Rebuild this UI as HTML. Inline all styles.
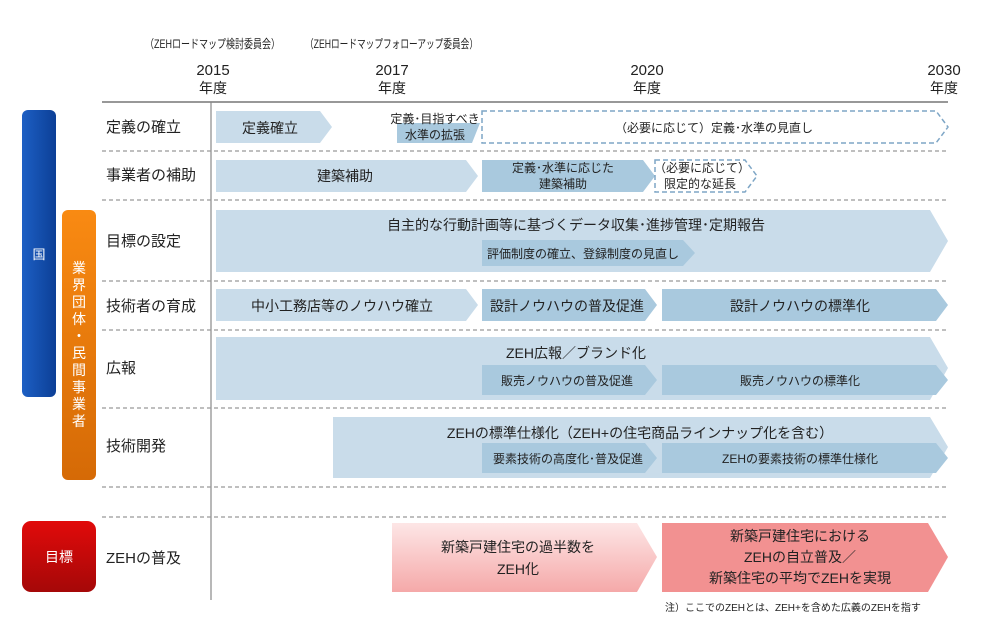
<!DOCTYPE html>
<html><head><meta charset="utf-8"><style>
html,body{margin:0;padding:0;background:#fff}
svg{display:block}
text{font-family:"Liberation Sans","Noto Sans CJK JP",sans-serif;fill:#222}
</style></head><body>
<svg width="1000" height="642" viewBox="0 0 1000 642" xmlns="http://www.w3.org/2000/svg">
<defs>
<linearGradient id="pk" x1="0" y1="0" x2="0" y2="1"><stop offset="0" stop-color="#fde6e6"/><stop offset="1" stop-color="#f5a9a9"/></linearGradient>
<linearGradient id="bl" x1="0" y1="0" x2="1" y2="0"><stop offset="0" stop-color="#1d5fc4"/><stop offset="1" stop-color="#0c3f96"/></linearGradient>
<linearGradient id="or" x1="0" y1="0" x2="0" y2="1"><stop offset="0" stop-color="#f98a12"/><stop offset="1" stop-color="#d56a06"/></linearGradient>
<linearGradient id="rd" x1="0" y1="0" x2="0" y2="1"><stop offset="0" stop-color="#e10a0a"/><stop offset="1" stop-color="#a50808"/></linearGradient>
</defs>

<!-- header -->
<text x="145" y="48" font-size="12" textLength="135" lengthAdjust="spacingAndGlyphs">（ZEHロードマップ検討委員会）</text>
<text x="305" y="48" font-size="12" textLength="173" lengthAdjust="spacingAndGlyphs">（ZEHロードマップフォローアップ委員会）</text>
<g font-size="15" text-anchor="middle">
<text x="213" y="75">2015</text><text x="213" y="93" font-size="14">年度</text>
<text x="392" y="75">2017</text><text x="392" y="93" font-size="14">年度</text>
<text x="647" y="75">2020</text><text x="647" y="93" font-size="14">年度</text>
<text x="944" y="75">2030</text><text x="944" y="93" font-size="14">年度</text>
</g>
<line x1="102" y1="102" x2="948" y2="102" stroke="#777" stroke-width="1.5"/>
<line x1="211" y1="102" x2="211" y2="600" stroke="#888" stroke-width="1.2"/>
<g stroke="#999" stroke-width="1.2" stroke-dasharray="4,3">
<line x1="102" y1="151" x2="948" y2="151"/><line x1="102" y1="200" x2="948" y2="200"/>
<line x1="102" y1="281" x2="948" y2="281"/><line x1="102" y1="330" x2="948" y2="330"/>
<line x1="102" y1="408" x2="948" y2="408"/><line x1="102" y1="487" x2="948" y2="487"/>
<line x1="102" y1="517" x2="948" y2="517"/>
</g>

<!-- side bars -->
<rect x="22" y="110" width="34" height="287" rx="6" fill="url(#bl)"/>
<text x="39" y="259" font-size="13" text-anchor="middle" style="fill:#fff">国</text>
<rect x="62" y="210" width="34" height="270" rx="6" fill="url(#or)"/>
<g font-size="14" text-anchor="middle">
<text x="79" y="273" style="fill:#fff">業</text><text x="79" y="290" style="fill:#fff">界</text><text x="79" y="307" style="fill:#fff">団</text><text x="79" y="324" style="fill:#fff">体</text><text x="79" y="341" style="fill:#fff">・</text><text x="79" y="358" style="fill:#fff">民</text><text x="79" y="375" style="fill:#fff">間</text><text x="79" y="392" style="fill:#fff">事</text><text x="79" y="409" style="fill:#fff">業</text><text x="79" y="426" style="fill:#fff">者</text>
</g>
<rect x="22" y="521" width="74" height="71" rx="9" fill="url(#rd)"/>
<text x="59" y="562" font-size="14" text-anchor="middle" style="fill:#fff">目標</text>

<!-- row labels -->
<g font-size="15">
<text x="106" y="132">定義の確立</text>
<text x="106" y="180">事業者の補助</text>
<text x="106" y="246">目標の設定</text>
<text x="106" y="311">技術者の育成</text>
<text x="106" y="373">広報</text>
<text x="106" y="451">技術開発</text>
<text x="106" y="563">ZEHの普及</text>
</g>

<!-- arrows -->
<g fill="#c9dcea">
<polygon points="216,111 320,111 332,127 320,143 216,143"/>
<polygon points="216,160 466,160 478,176 466,192 216,192"/>
<polygon points="216,210 930,210 948,241 930,272 216,272"/>
<polygon points="216,289 466,289 478,305 466,321 216,321"/>
<polygon points="216,337 930,337 948,368 930,400 216,400"/>
<polygon points="333,417 930,417 948,447 930,478 333,478"/>
</g>
<g fill="#a9c9de">
<polygon points="397,123 480,123 472,143 397,143"/>
<polygon points="482,160 643,160 655,176 643,192 482,192"/>
<polygon points="482,240 683,240 695,253 683,266 482,266"/>
<polygon points="482,289 645,289 657,305 645,321 482,321"/>
<polygon points="662,289 936,289 948,305 936,321 662,321"/>
<polygon points="482,365 645,365 657,380 645,395 482,395"/>
<polygon points="662,365 936,365 948,380 936,395 662,395"/>
<polygon points="482,443 645,443 657,458 645,473 482,473"/>
<polygon points="662,443 936,443 948,458 936,473 662,473"/>
</g>
<g fill="none" stroke="#7ea6c6" stroke-width="1.5" stroke-dasharray="5,3">
<polygon points="482,111 936,111 948,127 936,143 482,143"/>
<polygon points="655,160 745,160 757,176 745,192 655,192"/>
</g>
<polygon points="392,523 637,523 657,557 637,592 392,592" fill="url(#pk)"/>
<polygon points="662,523 928,523 948,557 928,592 662,592" fill="#f29191"/>

<!-- arrow text -->
<g text-anchor="middle">
<text x="270" y="133" font-size="14">定義確立</text>
<text x="435" y="123" font-size="12">定義･目指すべき</text>
<text x="435" y="139" font-size="12">水準の拡張</text>
<text x="714" y="132" font-size="12">（必要に応じて）定義･水準の見直し</text>
<text x="345" y="181" font-size="14">建築補助</text>
<text x="563" y="172" font-size="12">定義･水準に応じた</text>
<text x="563" y="188" font-size="12">建築補助</text>
<text x="702" y="172" font-size="12">（必要に応じて）</text>
<text x="700" y="188" font-size="12">限定的な延長</text>
<text x="576" y="230" font-size="14">自主的な行動計画等に基づくデータ収集･進捗管理･定期報告</text>
<text x="583" y="258" font-size="12">評価制度の確立、登録制度の見直し</text>
<text x="342" y="311" font-size="14">中小工務店等のノウハウ確立</text>
<text x="567" y="311" font-size="14">設計ノウハウの普及促進</text>
<text x="800" y="311" font-size="14">設計ノウハウの標準化</text>
<text x="576" y="358" font-size="14">ZEH広報／ブランド化</text>
<text x="567" y="385" font-size="12">販売ノウハウの普及促進</text>
<text x="800" y="385" font-size="12">販売ノウハウの標準化</text>
<text x="640" y="438" font-size="14">ZEHの標準仕様化（ZEH+の住宅商品ラインナップ化を含む）</text>
<text x="568" y="463" font-size="12">要素技術の高度化･普及促進</text>
<text x="800" y="463" font-size="12">ZEHの要素技術の標準仕様化</text>
<text x="518" y="552" font-size="14">新築戸建住宅の過半数を</text>
<text x="518" y="574" font-size="14">ZEH化</text>
<text x="800" y="541" font-size="14">新築戸建住宅における</text>
<text x="800" y="562" font-size="14">ZEHの自立普及／</text>
<text x="800" y="583" font-size="14">新築住宅の平均でZEHを実現</text>
</g>
<text x="665" y="611" font-size="10">注）ここでのZEHとは、ZEH+を含めた広義のZEHを指す</text>
</svg>
</body></html>
